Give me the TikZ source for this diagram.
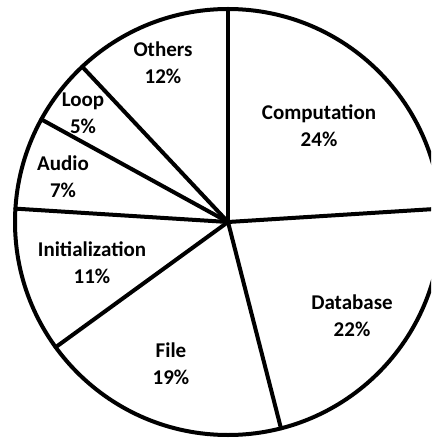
\documentclass[tikz,border=0pt]{standalone}
\usepackage{fontspec}
\setmainfont{Carlito}
\usetikzlibrary{calc}
\begin{document}
\begin{tikzpicture}[x=1pt,y=1pt,
  pieline/.style={line width=4pt, line cap=round, line join=round},
  lbl/.style={font=\fontsize{21}{27}\selectfont\bfseries, align=center, inner sep=0pt}]
\useasboundingbox (0,0) rectangle (431,-438);
\clip (0,0) rectangle (431,-438);
\fill[white] (0,0) rectangle (431,-438);
\coordinate (c) at (228,-222);
\def\R{213}
\foreach \a/\n in {90/p1, 3.6/p2, -75.6/p3, -144/p4, 176.4/p5, 151.2/p6, 133.2/p7}{
  \coordinate (\n) at ($(c)+(\a:\R)$);
}
\draw[pieline] (c) circle (\R);
\foreach \n in {p1,p2,p3,p4,p5,p6,p7}{
  \draw[pieline] (c) -- (\n);
}
\node[lbl] (comp) at (319,-126) {Computation\\24\%};
\node[lbl] (db) at (352,-316) {Database\\22\%};
\node[lbl] (file) at (171,-364) {File\\19\%};
\node[lbl] (init) at (92,-263) {Initialization\\11\%};
\node[lbl] (audio) at (63,-177) {Audio\\7\%};
\node[lbl] (loop) at (83,-113) {Loop\\5\%};
\node[lbl] (oth) at (163,-63) {Others\\12\%};
\end{tikzpicture}
\end{document}
